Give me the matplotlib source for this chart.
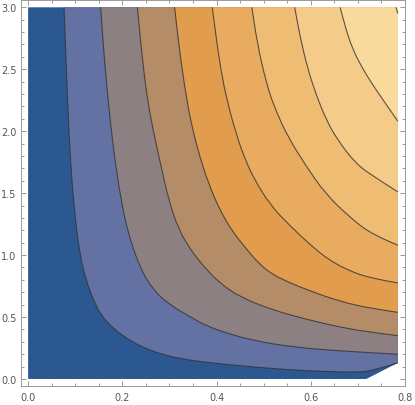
import numpy as np
import matplotlib.pyplot as plt
from matplotlib.path import Path
from matplotlib.patches import PathPatch
from matplotlib.ticker import MultipleLocator

# contour lines, each runs from the top edge (y=3) to the right edge
c1_x = [0.0763, 0.0803, 0.0843, 0.0893, 0.097, 0.1095, 0.126, 0.142, 0.156, 0.175, 0.20, 0.24, 0.29, 0.345, 0.40, 0.47, 0.55, 0.63, 0.70, 0.735, 0.785]
c1_y = [3.0, 2.6, 2.2, 1.8, 1.4, 1.0, 0.76, 0.61, 0.51, 0.43, 0.35, 0.26, 0.19, 0.15, 0.125, 0.10, 0.075, 0.06, 0.054, 0.07, 0.13]

c2_x = [0.154, 0.1615, 0.171, 0.183, 0.197, 0.212, 0.237, 0.265, 0.30, 0.345, 0.38, 0.43, 0.48, 0.553, 0.66, 0.785]
c2_y = [3.0, 2.6, 2.2, 1.8, 1.45, 1.18, 0.90, 0.72, 0.60, 0.50, 0.425, 0.36, 0.31, 0.262, 0.225, 0.20]

c3_x = [0.232, 0.242, 0.253, 0.267, 0.281, 0.298, 0.318, 0.345, 0.375, 0.405, 0.45, 0.52, 0.588, 0.66, 0.72, 0.785]
c3_y = [3.0, 2.6, 2.26, 1.98, 1.74, 1.45, 1.22, 1.04, 0.90, 0.78, 0.66, 0.556, 0.484, 0.42, 0.38, 0.35]

c4_x = [0.311, 0.323, 0.339, 0.351, 0.364, 0.383, 0.405, 0.432, 0.46, 0.49, 0.52, 0.56, 0.592, 0.662, 0.733, 0.785]
c4_y = [3.0, 2.6, 2.2, 1.99, 1.80, 1.58, 1.38, 1.20, 1.065, 0.93, 0.84, 0.77, 0.72, 0.625, 0.565, 0.538]

c5_x = [0.391, 0.3995, 0.409, 0.422, 0.443, 0.462, 0.482, 0.515, 0.555, 0.60, 0.635, 0.68, 0.73, 0.785]
c5_y = [3.0, 2.75, 2.5, 2.25, 1.96, 1.76, 1.60, 1.40, 1.24, 1.08, 0.97, 0.875, 0.81, 0.775]

c6_x = [0.475, 0.487, 0.505, 0.522, 0.552, 0.59, 0.63, 0.684, 0.733, 0.785]
c6_y = [3.0, 2.7, 2.4, 2.2, 1.95, 1.72, 1.50, 1.30, 1.16, 1.08]

c7_x = [0.566, 0.578, 0.594, 0.611, 0.632, 0.655, 0.695, 0.735, 0.785]
c7_y = [3.0, 2.75, 2.5, 2.30, 2.10, 1.94, 1.74, 1.63, 1.51]

c8_x = [0.6625, 0.675, 0.689, 0.708, 0.728, 0.754, 0.785]
c8_y = [3.0, 2.82, 2.663, 2.52, 2.395, 2.25, 2.08]

c9_x = [0.781, 0.785]
c9_y = [3.0, 2.95]

contours = [(c1_x, c1_y), (c2_x, c2_y), (c3_x, c3_y), (c4_x, c4_y), (c5_x, c5_y),
            (c6_x, c6_y), (c7_x, c7_y), (c8_x, c8_y), (c9_x, c9_y)]

x_max = 0.785
y_max = 3.0
# blank corner at the bottom right
gap_x = [0.718, 0.785]
gap_y = [0.0, 0.13]

band_colors = ["#2b5891", "#6372a2", "#8c8082", "#b58c68", "#e29c4d",
               "#e9ab5f", "#efbc74", "#f4cb89", "#f9da9d", "#fde6ad"]


def smooth_path(xs, ys, close_to=None):
    # quadratic curve through the midpoints, read points act as control points
    pts = list(zip(xs, ys))
    verts = [pts[0]]
    codes = [Path.MOVETO]
    if len(pts) > 2:
        verts.append(((pts[0][0] + pts[1][0]) / 2, (pts[0][1] + pts[1][1]) / 2))
        codes.append(Path.LINETO)
        for i in range(1, len(pts) - 1):
            nxt = pts[i + 1] if i == len(pts) - 2 else ((pts[i][0] + pts[i + 1][0]) / 2, (pts[i][1] + pts[i + 1][1]) / 2)
            verts += [pts[i], nxt]
            codes += [Path.CURVE3, Path.CURVE3]
    else:
        verts.append(pts[1])
        codes.append(Path.LINETO)
    if close_to is not None:
        verts.append(close_to)
        codes.append(Path.LINETO)
        verts.append(pts[0])
        codes.append(Path.CLOSEPOLY)
    return Path(verts, codes)


fig = plt.figure(figsize=(4.15, 4.06), dpi=100)
ax = fig.add_axes([0.0499, 0.0458, 0.927, 0.952])

# lowest band covers the whole region
ax.fill([0, gap_x[0], gap_x[1], x_max, 0], [0, gap_y[0], gap_y[1], y_max, y_max],
        color=band_colors[0], lw=0)

for k, (cx, cy) in enumerate(contours):
    ax.add_patch(PathPatch(smooth_path(cx, cy, close_to=(x_max, y_max)),
                           facecolor=band_colors[k + 1], lw=0))

for cx, cy in contours:
    ax.add_patch(PathPatch(smooth_path(cx, cy), facecolor="none",
                           edgecolor="#333333", lw=0.8, alpha=0.8))

ax.set_xlim(-0.0157, 0.801)
ax.set_ylim(-0.06, 3.06)

ax.xaxis.set_major_locator(MultipleLocator(0.2))
ax.xaxis.set_minor_locator(MultipleLocator(0.05))
ax.yaxis.set_major_locator(MultipleLocator(0.5))
ax.yaxis.set_minor_locator(MultipleLocator(0.1))
ax.xaxis.set_major_formatter(lambda v, p: f"{v:.1f}")
ax.yaxis.set_major_formatter(lambda v, p: f"{v:.1f}")

ax.tick_params(which="both", direction="in", top=True, right=True,
               color="#999999", width=0.7, labelsize=7, labelcolor="#555555")
ax.tick_params(which="major", length=3.6)
ax.tick_params(which="minor", length=2.0)
ax.tick_params(axis="y", pad=3.2)
ax.tick_params(axis="x", pad=4.0)
for s in ax.spines.values():
    s.set_color("#9a9a9a")
    s.set_linewidth(0.7)

fig.savefig("out.png", dpi=100)
